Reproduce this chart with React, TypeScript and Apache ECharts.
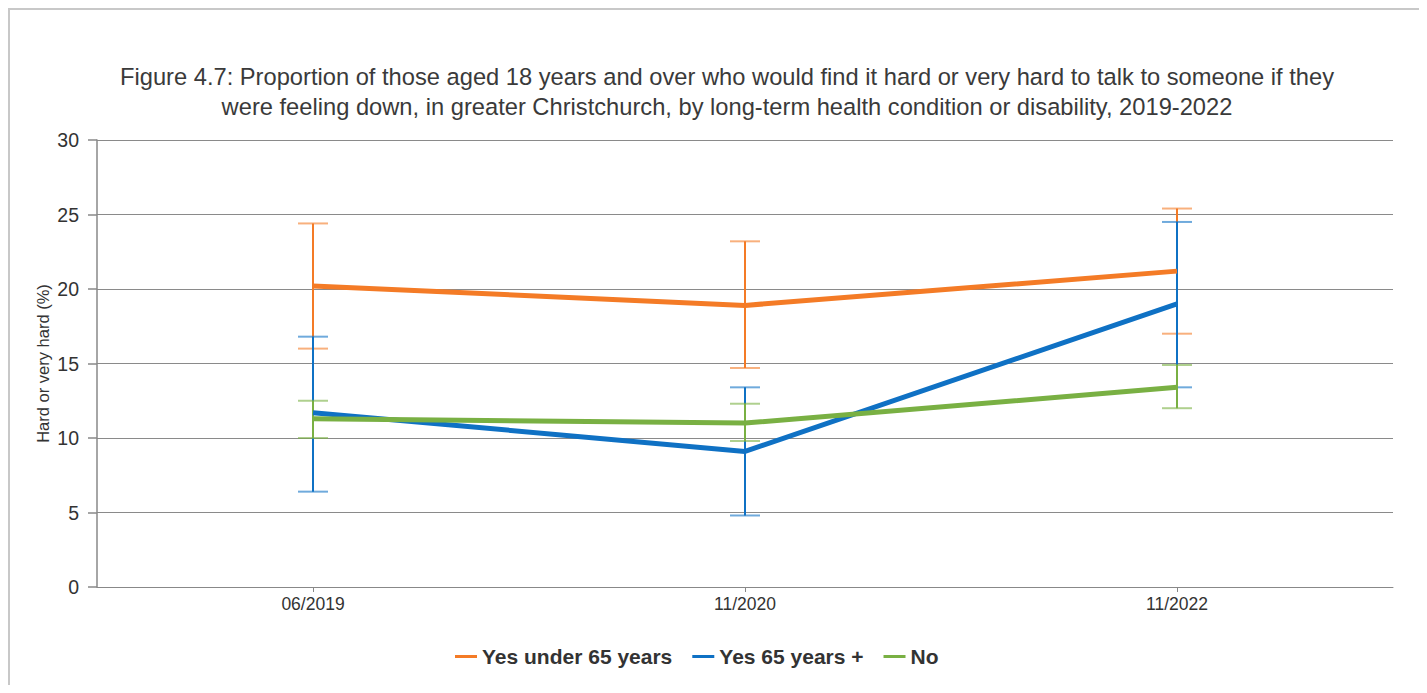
import React, { useEffect, useRef } from "react";
import * as echarts from "echarts";

const categories = ["06/2019", "11/2020", "11/2022"];
const seriesNames = ["Yes under 65 years", "Yes 65 years +", "No"];
const colors = ["#f47b26", "#0f71c4", "#79b043"];

const under65 = [20.2, 18.9, 21.2];
const under65Low = [16.0, 14.7, 17.0];
const under65High = [24.4, 23.2, 25.4];

const over65 = [11.7, 9.1, 19.0];
const over65Low = [6.4, 4.8, 13.4];
const over65High = [16.8, 13.4, 24.5];

const noCond = [11.3, 11.0, 13.4];
const noCondLow = [10.0, 9.8, 12.0];
const noCondHigh = [12.5, 12.3, 14.9];

const yTicks = { min: 0, max: 30, interval: 5 };

const titleText =
  "Figure 4.7: Proportion of those aged 18 years and over who would find it hard or very hard to talk to someone if they\nwere feeling down, in greater Christchurch, by long-term health condition or disability, 2019-2022";

const FONT = "'Liberation Sans', Arial, sans-serif";

function errorSeries(name: string, low: number[], high: number[], color: string, z: number) {
  return {
    type: "custom",
    name: name + " CI",
    z,
    silent: true,
    data: low.map((l, i) => [i, l, high[i]]),
    renderItem: (params: any, api: any) => {
      const lo = api.coord([api.value(0), api.value(1)]);
      const hi = api.coord([api.value(0), api.value(2)]);
      const half = 15;
      return {
        type: "group",
        children: [
          {
            type: "line",
            shape: { x1: lo[0], y1: lo[1], x2: hi[0], y2: hi[1] },
            style: { stroke: color, lineWidth: 2 },
          },
          {
            type: "line",
            shape: { x1: lo[0] - half, y1: lo[1], x2: lo[0] + half, y2: lo[1] },
            style: { stroke: color, lineWidth: 2, opacity: 0.6 },
          },
          {
            type: "line",
            shape: { x1: hi[0] - half, y1: hi[1], x2: hi[0] + half, y2: hi[1] },
            style: { stroke: color, lineWidth: 2, opacity: 0.6 },
          },
        ],
      };
    },
  };
}

export default function App() {
  const ref = useRef<HTMLDivElement>(null);
  useEffect(() => {
    if (!ref.current) return;
    const chart = echarts.init(ref.current, null, { renderer: "svg" });
    const values = [under65, over65, noCond];
    const lows = [under65Low, over65Low, noCondLow];
    const highs = [under65High, over65High, noCondHigh];
    const series: any[] = [];
    seriesNames.forEach((n, i) => {
      series.push(errorSeries(n, lows[i], highs[i], colors[i], 2 + i));
    });
    seriesNames.forEach((n, i) => {
      series.push({
        type: "line",
        name: n,
        data: values[i],
        z: 10 + i,
        symbol: "none",
        lineStyle: { width: 5, color: colors[i] },
        itemStyle: { color: colors[i] },
      });
    });
    chart.setOption({
      animation: false,
      backgroundColor: "#ffffff",
      textStyle: { fontFamily: FONT },
      graphic: [
        {
          type: "text",
          x: 717,
          y: 52,
          style: {
            text: titleText,
            fontFamily: FONT,
            fontSize: 23.7,
            lineHeight: 30,
            fill: "#3a3a3a",
            textAlign: "center",
            textVerticalAlign: "top",
          },
        },
      ],
      legend: {
        data: seriesNames,
        left: 440,
        top: 631,
        icon: "rect",
        itemWidth: 22,
        itemHeight: 3,
        itemGap: 20,
        textStyle: { fontFamily: FONT, fontSize: 21, fontWeight: "bold", color: "#333" },
      },
      grid: { left: 87, right: 18, top: 130, bottom: 90 },
      xAxis: {
        type: "category",
        data: categories,
        boundaryGap: true,
        axisLine: { show: true, lineStyle: { color: "#888", width: 1 } },
        axisTick: { show: true, alignWithLabel: true, interval: 0, length: 5, lineStyle: { color: "#888" } },
        axisLabel: { fontFamily: FONT, fontSize: 17.5, color: "#333", margin: 8 },
        splitLine: { show: false },
      },
      yAxis: {
        type: "value",
        min: yTicks.min,
        max: yTicks.max,
        interval: yTicks.interval,
        name: "Hard or very hard (%)",
        nameLocation: "middle",
        nameGap: 46,
        nameRotate: 90,
        nameMoveOverlap: false,
        nameTextStyle: { fontFamily: FONT, fontSize: 16.5, color: "#333" },
        axisLine: { show: true, lineStyle: { color: "#888", width: 1.5 } },
        axisTick: { show: true, length: 9, lineStyle: { color: "#888", width: 1.5 } },
        axisLabel: { fontFamily: FONT, fontSize: 19.5, color: "#333", margin: 18 },
        splitLine: { show: true, lineStyle: { color: "#8a8a8a", width: 1.2 } },
      },
      series,
    });
    return () => chart.dispose();
  }, []);
  return (
    <div style={{ borderLeft: "2px solid #c8c8c8", borderTop: "2px solid #c8c8c8", width: 1409, height: 675 }}>
      <div ref={ref} style={{ width: 1401, height: 667 }} />
    </div>
  );
}
